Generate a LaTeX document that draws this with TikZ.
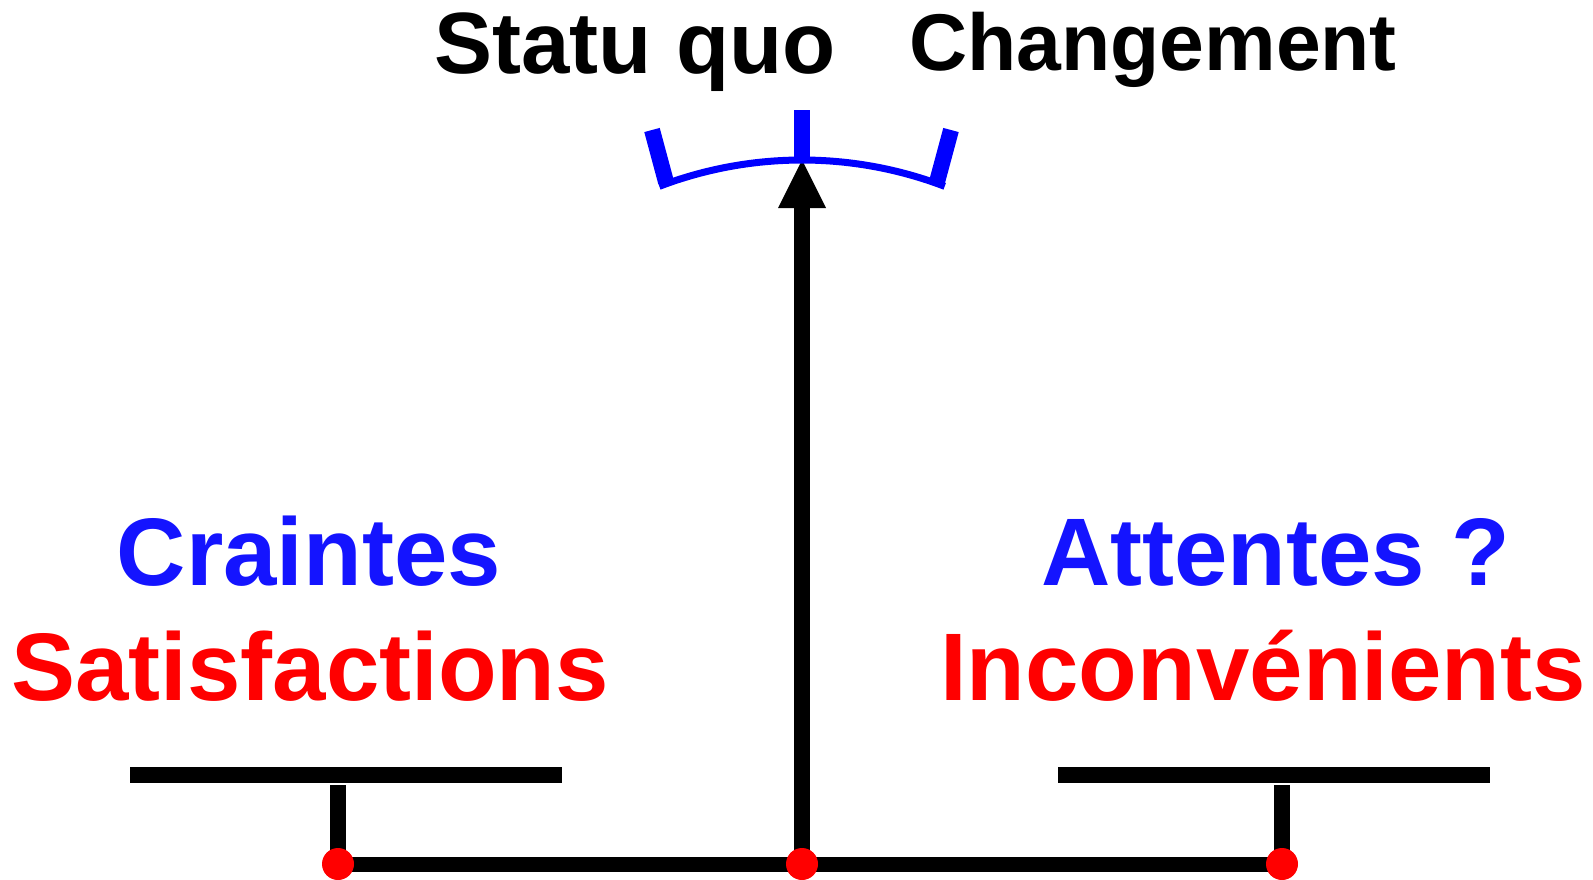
\documentclass[tikz,border=0pt]{standalone}
\usepackage{fontspec}
\setmainfont{Liberation Sans}
\definecolor{tblue}{RGB}{20,20,255}
\definecolor{tred}{RGB}{255,0,0}
\definecolor{arcblue}{RGB}{0,0,255}
\begin{document}
\begin{tikzpicture}[x=1pt,y=-1pt,
  lbl/.style={anchor=base, inner sep=0pt},
  bigfont/.style={font=\fontsize{96}{96}\selectfont\bfseries},
  beam/.style={line width=16pt, black},
  pivotdot/.style={circle, fill=red, minimum size=32pt, inner sep=0pt},
  gaugetick/.style={line width=16pt, arcblue},
  gaugearc/.style={line width=7pt, arcblue},
]
\useasboundingbox (0,0) rectangle (1593,879);

% coordinates
\coordinate (L) at (338,864);
\coordinate (C) at (802,864);
\coordinate (R) at (1282,864);
\coordinate (Ltop) at (338,785);
\coordinate (Rtop) at (1282,785);
\coordinate (LbarA) at (130,775);
\coordinate (LbarB) at (562,775);
\coordinate (RbarA) at (1058,775);
\coordinate (RbarB) at (1490,775);
\coordinate (hb) at (802,207);
\coordinate (hbL) at (778,208);
\coordinate (hbR) at (826,208);
\coordinate (tip) at (802,160);

% balance
\draw[beam] (LbarA) -- (LbarB);
\draw[beam] (RbarA) -- (RbarB);
\draw[beam] (Ltop) -- (L);
\draw[beam] (Rtop) -- (R);
\draw[line width=15pt] (L) -- (R);
\draw[beam] (C) -- (hb);
\fill[black] (hbL) -- (tip) -- (hbR) -- cycle;

% gauge
\draw[gaugearc] plot[domain=-110.9:-69.1, samples=60] ({802+400*cos(\x)},{560+400*sin(\x)});
\draw[gaugetick] (652,130) -- (666,182);
\draw[gaugetick] (951,130) -- (937,182);
\draw[gaugetick] (802,110) -- (802,160);

% pivots
\node[pivotdot] (dotL) at (L) {};
\node[pivotdot] (dotC) at (C) {};
\node[pivotdot] (dotR) at (R) {};

% labels
\node[lbl, font=\fontsize{87}{87}\selectfont\bfseries] (statu) at (635,73) {Statu quo};
\node[lbl, font=\fontsize{80.5}{80.5}\selectfont\bfseries] (chg) at (1153,70) {Changement};
\node[lbl, bigfont, text=tblue] (craintes) at (309,585) {Craintes};
\node[lbl, bigfont, text=tred] (satis) at (310,700) {Satisfactions};
\node[lbl, bigfont, text=tblue] (attentes) at (1276,585) {Attentes ?};
\node[lbl, bigfont, text=tred] (incon) at (1263,700) {Inconvénients};
\end{tikzpicture}
\end{document}
